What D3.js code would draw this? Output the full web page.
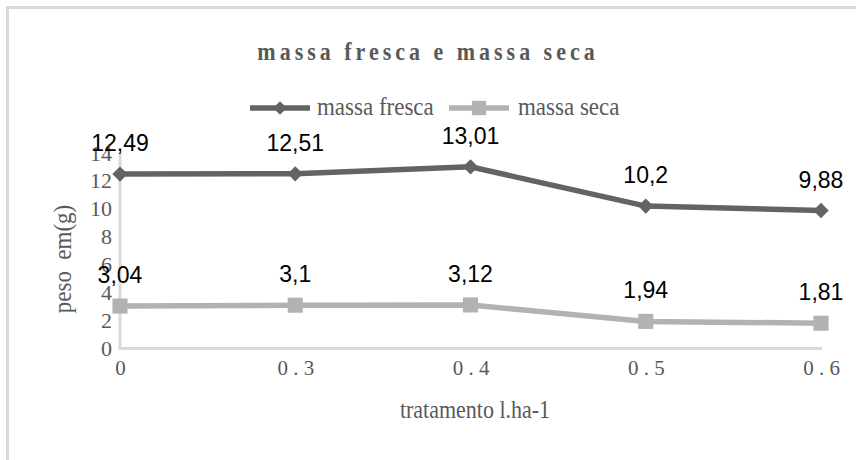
<!DOCTYPE html>
<html>
<head>
<meta charset="utf-8">
<script src="https://cdn.jsdelivr.net/npm/d3@7"></script>
<style>
 body { margin: 0; background: #fff; }
 svg { display: block; }
</style>
</head>
<body>
<svg id="chart" width="856" height="460"></svg>
<script>
/* line chart: massa fresca / massa seca per tratamento */

var categories = ['0', '0.3', '0.4', '0.5', '0.6'];
var tickLabels = ['0', '0 . 3', '0 . 4', '0 . 5', '0 . 6'];
var massaFresca = [12.49, 12.51, 13.01, 10.2, 9.88];
var massaSeca = [3.04, 3.1, 3.12, 1.94, 1.81];
var yTicks = [0, 2, 4, 6, 8, 10, 12, 14];
var seriesNames = ['massa fresca', 'massa seca'];

var graphicAtt = {
 left: 120, right: 821, top: 153, bottom: 348.5,
 darkColor: 'rgb(99, 99, 99)',
 lightColor: 'rgb(178, 178, 178)',
 axisColor: 'rgb(217, 217, 217)',
 textColor: 'rgb(89, 89, 89)',
 serif: '"Liberation Serif", "Times New Roman", serif',
 sans: '"Liberation Sans", Arial, sans-serif'
};

var svg = d3.select('#chart');

// outer frame, right and bottom edges run out of the picture
svg.append('rect')
 .attr('x', 7.5)
 .attr('y', 7.5)
 .attr('width', 900)
 .attr('height', 500)
 .style('fill', 'none')
 .style('stroke', graphicAtt.axisColor)
 .style('stroke-width', '3px');

var x = d3.scalePoint()
 .domain(categories)
 .range([graphicAtt.left, graphicAtt.right])
 .padding(0);

var y = d3.scaleLinear()
 .domain([0, 14])
 .range([graphicAtt.bottom, graphicAtt.top]);

// title (tall letters: stretched a bit vertically like the original)
svg.append('text')
 .attr('transform', 'translate(428,60) scale(1,1.15)')
 .attr('text-anchor', 'middle')
 .style('font-family', graphicAtt.serif)
 .style('font-weight', 'bold')
 .style('font-size', '22px')
 .style('letter-spacing', '4px')
 .style('fill', graphicAtt.textColor)
 .text('massa fresca e massa seca');

// y axis: only labels and the line, no ticks
var yAxis = d3.axisLeft(y).tickValues(yTicks).tickSize(0).tickPadding(8);
var gY = svg.append('g')
 .attr('transform', 'translate(' + graphicAtt.left + ',0)')
 .call(yAxis);
gY.select('.domain').remove();
gY.selectAll('text')
 .style('font-family', graphicAtt.serif)
 .style('font-size', '22px')
 .style('fill', graphicAtt.textColor);

// x axis
var xAxis = d3.axisBottom(x).tickSize(0).tickPadding(12)
 .tickFormat(function(d, i) { return tickLabels[i]; });
var gX = svg.append('g')
 .attr('transform', 'translate(0,' + graphicAtt.bottom + ')')
 .call(xAxis);
gX.select('.domain').remove();
gX.selectAll('text')
 .style('font-family', graphicAtt.serif)
 .style('font-size', '21px')
 .style('fill', graphicAtt.textColor);

// axis lines drawn by hand in light gray
svg.append('line')
 .attr('x1', graphicAtt.left).attr('x2', graphicAtt.left)
 .attr('y1', graphicAtt.top).attr('y2', graphicAtt.bottom)
 .style('stroke', graphicAtt.axisColor)
 .style('stroke-width', '3px');
svg.append('line')
 .attr('x1', graphicAtt.left - 1.5).attr('x2', graphicAtt.right + 1)
 .attr('y1', graphicAtt.bottom).attr('y2', graphicAtt.bottom)
 .style('stroke', graphicAtt.axisColor)
 .style('stroke-width', '3px');

// axis titles
svg.append('text')
 .attr('transform', 'translate(475,418) scale(1,1.1)')
 .attr('text-anchor', 'middle')
 .style('font-family', graphicAtt.serif)
 .style('font-size', '22px')
 .style('fill', graphicAtt.textColor)
 .text('tratamento l.ha-1');

svg.append('text')
 .attr('transform', 'translate(71,259) rotate(-90) scale(1,1.1)')
 .attr('text-anchor', 'middle')
 .style('font-family', graphicAtt.serif)
 .style('font-size', '23px')
 .style('white-space', 'pre')
 .style('fill', graphicAtt.textColor)
 .text('peso  em(g)');

var line = d3.line()
 .x(function(d, i) { return x(categories[i]); })
 .y(function(d) { return y(d); });

/* draws one series: line, markers and data labels
 - values : series values
 - color : line and marker colour
 - shape : d3 symbol type used for markers
 - size : symbol area
*/
function drawSeries(values, color, shape, size)
{
 var g = svg.append('g');
 g.append('path')
  .datum(values)
  .attr('d', line)
  .style('fill', 'none')
  .style('stroke', color)
  .style('stroke-width', '5.5px');

 g.selectAll('.marker')
  .data(values)
  .enter()
  .append('path')
  .attr('class', 'marker')
  .attr('transform', function(d, i) { return 'translate(' + x(categories[i]) + ',' + y(d) + ')'; })
  .attr('d', d3.symbol().type(shape).size(size))
  .style('fill', color);

 g.selectAll('.label')
  .data(values)
  .enter()
  .append('text')
  .attr('class', 'label')
  .attr('x', function(d, i) { return x(categories[i]); })
  .attr('y', function(d) { return y(d) - 23; })
  .attr('text-anchor', 'middle')
  .style('font-family', graphicAtt.sans)
  .style('font-size', '23px')
  .style('fill', '#000')
  .text(function(d) { return String(d).replace('.', ','); });
}

drawSeries(massaFresca, graphicAtt.darkColor, d3.symbolDiamond2, 150);
drawSeries(massaSeca, graphicAtt.lightColor, d3.symbolSquare2, 290);

// legend
var legendItems = [
 {name: seriesNames[0], color: graphicAtt.darkColor, shape: d3.symbolDiamond2, size: 120, x0: 250, tx: 317},
 {name: seriesNames[1], color: graphicAtt.lightColor, shape: d3.symbolSquare2, size: 260, x0: 449, tx: 518}
];
var legend = svg.append('g');
legendItems.forEach(function(item)
{
 legend.append('line')
  .attr('x1', item.x0).attr('x2', item.x0 + 60)
  .attr('y1', 108).attr('y2', 108)
  .style('stroke', item.color)
  .style('stroke-width', '5.5px');
 legend.append('path')
  .attr('transform', 'translate(' + (item.x0 + 30) + ',108)')
  .attr('d', d3.symbol().type(item.shape).size(item.size))
  .style('fill', item.color);
 legend.append('text')
  .attr('transform', 'translate(' + item.tx + ',115) scale(1,1.1)')
  .style('font-family', graphicAtt.serif)
  .style('font-size', '23px')
  .style('fill', graphicAtt.textColor)
  .text(item.name);
});
</script>
</body>
</html>
